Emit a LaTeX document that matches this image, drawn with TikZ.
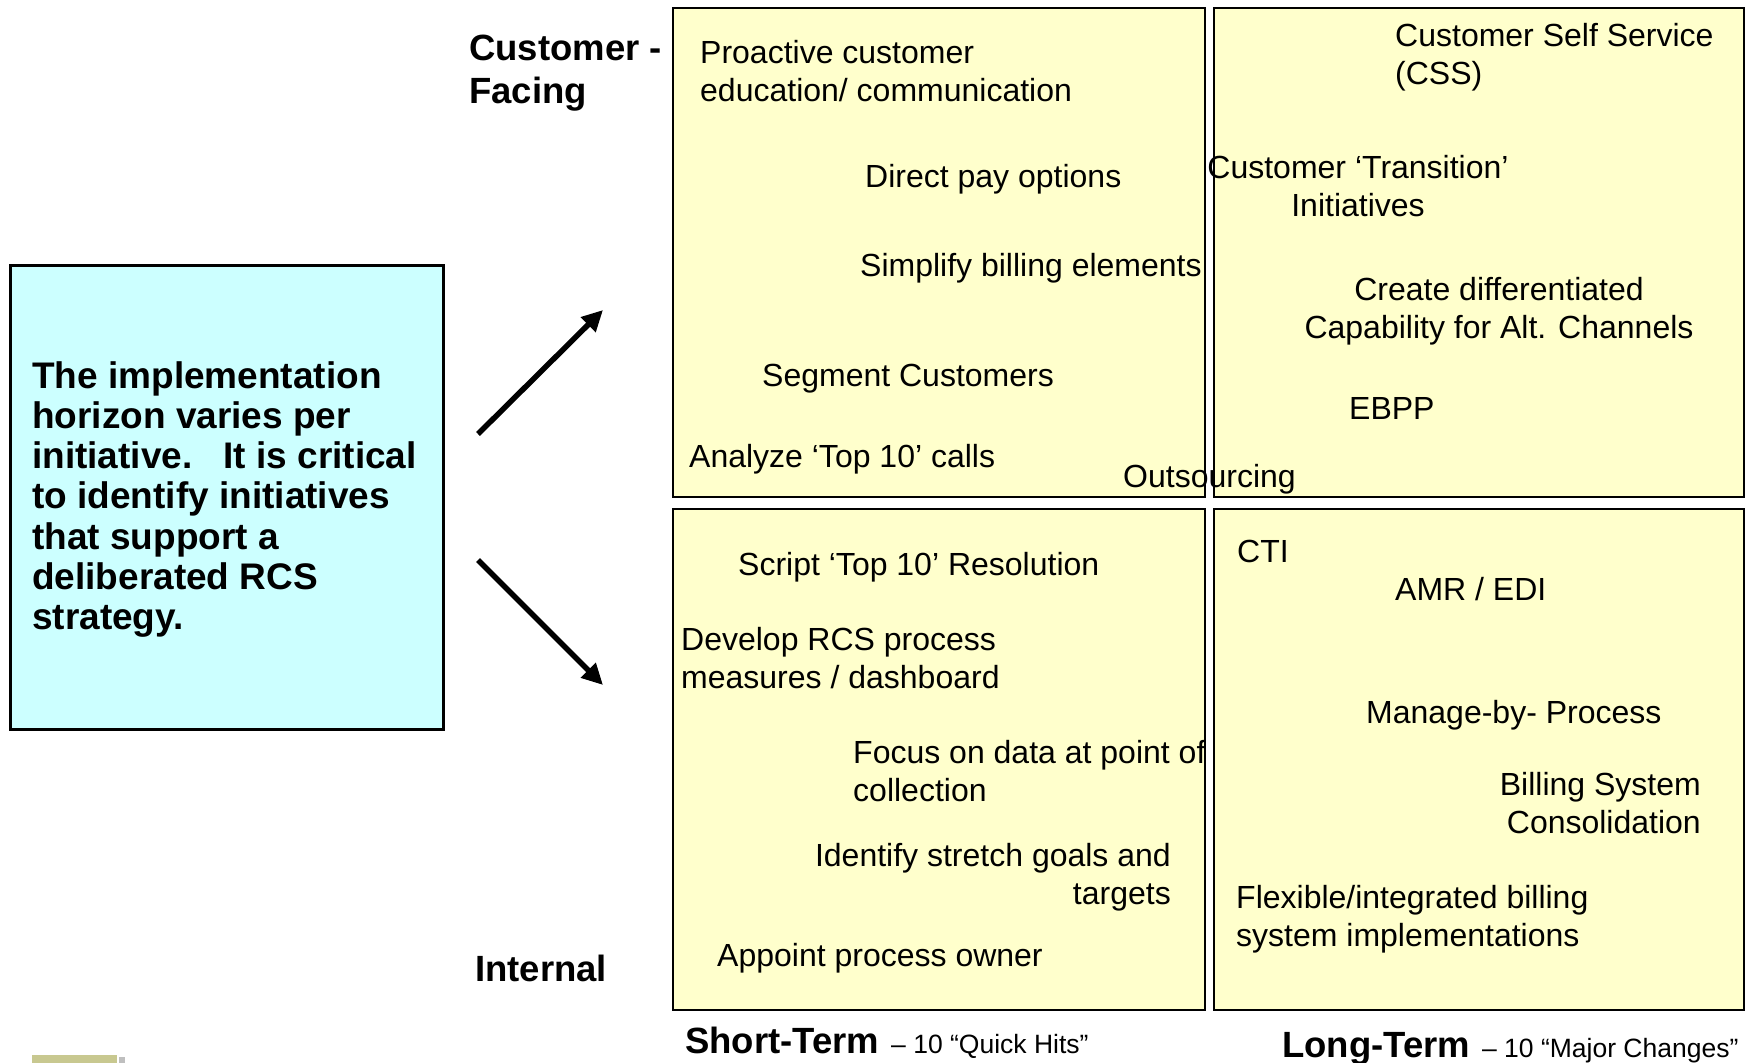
\documentclass[tikz,border=0pt]{standalone}
\usepackage{fontspec}
\setmainfont{Liberation Sans}
\usetikzlibrary{arrows.meta}

\definecolor{quadfill}{HTML}{FFFFCC}
\definecolor{notefill}{HTML}{CCFFFF}
\definecolor{tabfill}{HTML}{C8C890}

% font sizes (1pt = 1 unit of the picture)
\newcommand\itemfont{\fontsize{32}{38}\selectfont}
\newcommand\axisfont{\fontsize{36.5}{43.5}\selectfont\bfseries}
\newcommand\notefont{\fontsize{37}{40.3}\selectfont\bfseries}
\newcommand\termfont{\fontsize{36.5}{40}\selectfont\bfseries}
\newcommand\countfont{\fontsize{26.5}{30}\selectfont}
% stacked lines whose baseline is the first line
\newcommand\stack[2]{\begin{tabular}[t]{@{}#1@{}}#2\end{tabular}}

\begin{document}
\begin{tikzpicture}[x=1pt,y=-1pt,
  quad/.style={draw=black,line width=2.6pt,fill=quadfill},
  notebox/.style={draw=black,line width=3pt,fill=notefill},
  item/.style={inner sep=0pt,font=\itemfont},
  axis/.style={inner sep=0pt,font=\axisfont},
  bigarrow/.style={line width=5.5pt,-{Triangle[length=21pt,width=20pt]}}]

\useasboundingbox (0,0) rectangle (1754,1063);
\fill[white] (0,0) rectangle (1754,1063);

% four quadrants
\draw[quad] (673,8) rectangle (1205,497);
\draw[quad] (1214,8) rectangle (1744,497);
\draw[quad] (673,509) rectangle (1205,1010);
\draw[quad] (1214,509) rectangle (1744,1010);

% explanatory box
\draw[notebox] (10,265) rectangle (443,729);
\node[inner sep=0pt,anchor=base west,font=\notefont] (note) at (32,388)
  {\stack{l}{The implementation\\horizon varies per\\initiative.\ \ \ It is critical\\to identify initiatives\\that support a\\deliberated RCS\\strategy.}};

% arrows towards the two rows
\coordinate (upstart) at (478,434);
\coordinate (uptip) at (603,310);
\coordinate (downstart) at (478,560);
\coordinate (downtip) at (603,685);
\draw[bigarrow] (upstart) -- (uptip);
\draw[bigarrow] (downstart) -- (downtip);

% axis labels
\node[axis,anchor=base west] (facing) at (469,60) {\stack{l}{Customer -\\Facing}};
\node[axis,anchor=base west] (internal) at (475,981) {Internal};
\node[inner sep=0pt,anchor=base west] (shortterm) at (685,1053)
  {{\termfont Short-Term}\hspace{12pt}{\countfont – 10 “Quick Hits”}};
\node[inner sep=0pt,anchor=base west] (longterm) at (1282,1057)
  {{\termfont Long-Term}\hspace{12pt}{\countfont – 10 “Major Changes”}};

% short-term, customer-facing
\node[item,anchor=base west] (proactive) at (700,63) {\stack{l}{Proactive customer\\education/ communication}};
\node[item,anchor=base west] (directpay) at (865,187) {Direct pay options};
\node[item,anchor=base west] (simplify) at (860,276) {Simplify billing elements};
\node[item,anchor=base west] (segment) at (762,386) {Segment Customers};
\node[item,anchor=base west] (analyze) at (689,467) {Analyze ‘Top 10’ calls};
\node[item,anchor=base west] (outsourcing) at (1123,487) {Outsourcing};

% long-term, customer-facing
\node[item,anchor=base west] (css) at (1395,46) {\stack{l}{Customer Self Service\\(CSS)}};
\node[item,anchor=base] (transition) at (1358,178) {\stack{c}{Customer ‘Transition’\\Initiatives}};
\node[item,anchor=base] (altchannels) at (1499,300) {\stack{c}{Create differentiated\\Capability for Alt. Channels}};
\node[item,anchor=base west] (ebpp) at (1349,419) {EBPP};

% short-term, internal
\node[item,anchor=base west] (script) at (738,575) {Script ‘Top 10’ Resolution};
\node[item,anchor=base west] (measures) at (681,650) {\stack{l}{Develop RCS process\\measures / dashboard}};
\node[item,anchor=base west] (focus) at (853,763) {\stack{l}{Focus on data at point of\\collection}};
\node[item,anchor=base east] (stretch) at (1171,866) {\stack{r}{Identify stretch goals and\\targets}};
\node[item,anchor=base west] (owner) at (717,966) {Appoint process owner};

% long-term, internal
\node[item,anchor=base west] (cti) at (1237,562) {CTI};
\node[item,anchor=base west] (amr) at (1395,600) {AMR / EDI};
\node[item,anchor=base west] (manage) at (1366,723) {Manage-by- Process};
\node[item,anchor=base east] (consolidation) at (1701,795) {\stack{r}{Billing System\\Consolidation}};
\node[item,anchor=base west] (flexible) at (1236,908) {\stack{l}{Flexible/integrated billing\\system implementations}};

% small tab at the lower left edge
\fill[black!25] (119,1057) rectangle (125,1063);
\fill[tabfill] (32,1055) rectangle (117,1063);

\end{tikzpicture}
\end{document}
